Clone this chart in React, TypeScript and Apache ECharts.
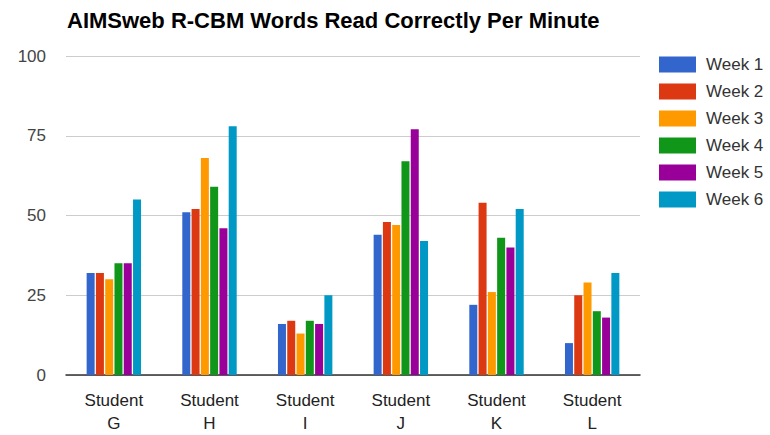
import React, { useEffect, useRef } from "react";
import * as echarts from "echarts";

const categories = ["Student\nG", "Student\nH", "Student\nI", "Student\nJ", "Student\nK", "Student\nL"];
const seriesNames = ["Week 1", "Week 2", "Week 3", "Week 4", "Week 5", "Week 6"];
const week1 = [32, 51, 16, 44, 22, 10];
const week2 = [32, 52, 17, 48, 54, 25];
const week3 = [30, 68, 13, 47, 26, 29];
const week4 = [35, 59, 17, 67, 43, 20];
const week5 = [35, 46, 16, 77, 40, 18];
const week6 = [55, 78, 25, 42, 52, 32];
const colors = ["#3366cc", "#dc3912", "#ff9900", "#109618", "#990099", "#0099c6"];
const yTicks = { min: 0, max: 100, interval: 25 };

export default function App() {
  const ref = useRef<HTMLDivElement>(null);
  useEffect(() => {
    if (!ref.current) return;
    const chart = echarts.init(ref.current, undefined, { renderer: "svg" });
    const data = [week1, week2, week3, week4, week5, week6];
    chart.setOption({
      animation: false,
      backgroundColor: "#ffffff",
      color: colors,
      title: {
        text: "AIMSweb R-CBM Words Read Correctly Per Minute",
        left: 62,
        top: 4,
        textStyle: { fontFamily: "Liberation Sans, Arial", fontWeight: "bold", fontSize: 22, color: "#000" },
      },
      legend: {
        orient: "vertical",
        left: 659,
        top: 56,
        padding: 0,
        itemWidth: 37,
        itemHeight: 16,
        itemGap: 10,
        icon: "rect",
        data: seriesNames,
        textStyle: { fontFamily: "Liberation Sans, Arial", fontSize: 17, lineHeight: 16, color: "#333", padding: [0, 0, 0, 5] },
      },
      grid: { left: 66, right: 130, top: 56, bottom: 56, containLabel: false },
      xAxis: {
        type: "category",
        data: categories,
        axisTick: { show: false },
        axisLine: { lineStyle: { color: "#333", width: 1.5 } },
        axisLabel: {
          fontFamily: "Liberation Sans, Arial",
          fontSize: 17,
          color: "#222",
          lineHeight: 23,
          margin: 14,
          interval: 0,
        },
      },
      yAxis: {
        type: "value",
        min: yTicks.min,
        max: yTicks.max,
        interval: yTicks.interval,
        axisLine: { show: false },
        axisTick: { show: false },
        splitLine: { lineStyle: { color: "#cccccc", width: 1 } },
        axisLabel: { fontFamily: "Liberation Sans, Arial", fontSize: 17, color: "#444", margin: 20 },
      },
      series: seriesNames.map((name, i) => ({
        name,
        type: "bar",
        data: data[i],
        barWidth: 8,
        barGap: "16%",
        itemStyle: { color: colors[i] },
      })),
    });
    return () => chart.dispose();
  }, []);
  return <div ref={ref} style={{ position: "absolute", left: 0, top: 0, width: 770, height: 435 }} />;
}
